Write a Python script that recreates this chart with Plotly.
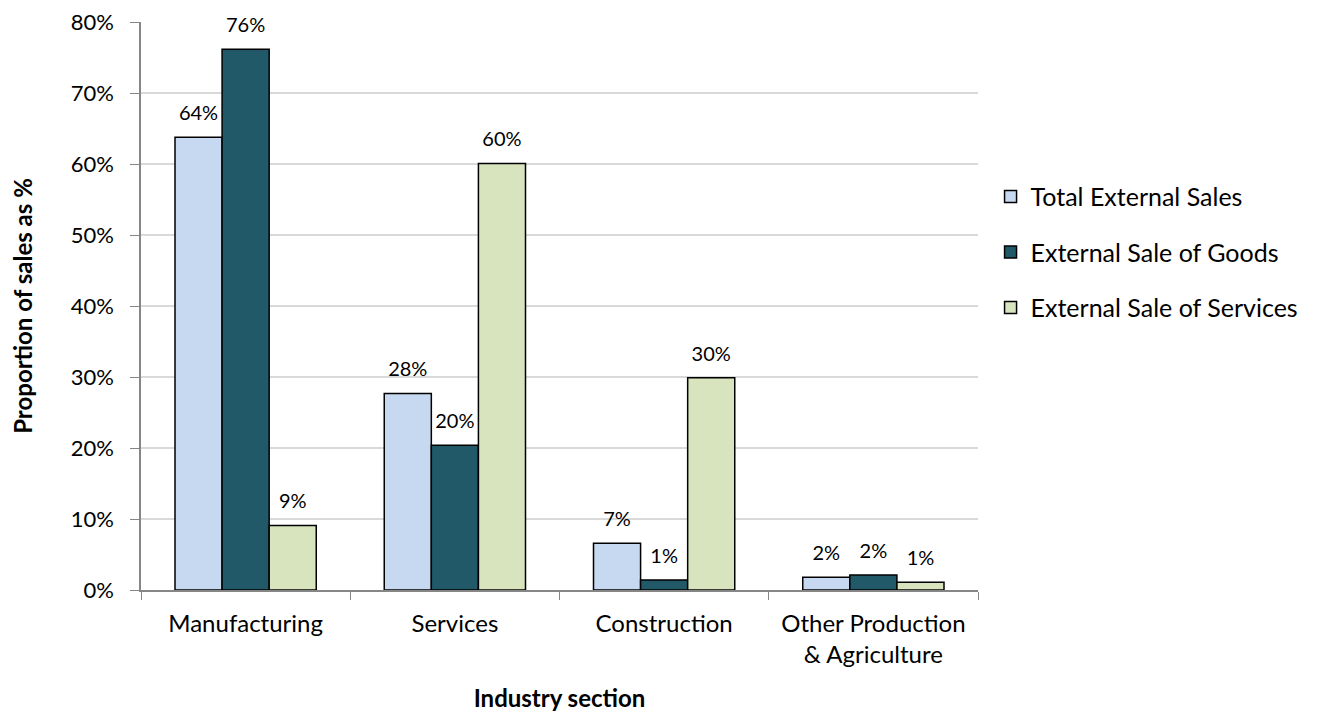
import plotly.graph_objects as go

categories = ["Manufacturing", "Services", "Construction", "Other Production<br>& Agriculture"]
series_names = ["Total External Sales", "External Sale of Goods", "External Sale of Services"]
total_sales = [63.8, 27.7, 6.6, 1.8]
goods_sales = [76.2, 20.4, 1.4, 2.1]
services_sales = [9.1, 60.1, 29.9, 1.1]
colors = ["#C6D9F1", "#215968", "#D7E4BD"]
y_ticks = [0, 10, 20, 30, 40, 50, 60, 70, 80]

FONT = "Lato"
GAP = 0.325
fig = go.Figure()
all_vals = [total_sales, goods_sales, services_sales]
for i, (name, vals) in enumerate(zip(series_names, all_vals)):
    fig.add_trace(go.Bar(
        x=categories, y=vals, name=name,
        marker=dict(color=colors[i], line=dict(color="black", width=1.5)),
        legendgroup=name,
    ))
for i, (name, vals) in enumerate(zip(series_names, all_vals)):
    fig.add_trace(go.Scatter(
        x=categories, y=vals, mode="markers+text",
        marker=dict(size=18, opacity=0),
        text=[f"{round(v)}%" for v in vals],
        textposition="top center", cliponaxis=False,
        textfont=dict(family=FONT, size=20, color="black"),
        showlegend=False, hoverinfo="skip",
    ))

fig.update_layout(
    barmode="group", bargap=GAP, bargroupgap=0,
    scattermode="group", scattergap=GAP,
    width=1319, height=715,
    margin=dict(l=133, r=349, t=14, b=133, autoexpand=False),
    plot_bgcolor="white", paper_bgcolor="white",
    font=dict(family=FONT, size=22, color="black"),
    showlegend=True,
    legend=dict(x=1.015, y=0.733, xanchor="left", yanchor="top",
                font=dict(family=FONT, size=25), tracegroupgap=20,
                bgcolor="rgba(0,0,0,0)"),
    xaxis=dict(title=dict(text="<b>Industry section</b>", font=dict(size=24), standoff=23),
               showline=True, linecolor="#868686", linewidth=1.5, automargin=False,
               ticks="outside", tickson="boundaries", ticklen=8, tickcolor="#868686",
               tickfont=dict(size=24), ticklabelstandoff=11),
    yaxis=dict(title=dict(text="<b>Proportion of sales as %</b>", font=dict(size=24), standoff=32),
               range=[0, 80.05], tickvals=y_ticks, ticktext=[f"{t}%" for t in y_ticks],
               showline=True, linecolor="#868686", linewidth=1.5, automargin=False,
               ticks="outside", ticklen=9, tickcolor="#868686",
               gridcolor="#D9D9D9", gridwidth=1.5, zeroline=False,
               tickfont=dict(size=22), ticklabelstandoff=12),
)
fig.write_html("out.html")
